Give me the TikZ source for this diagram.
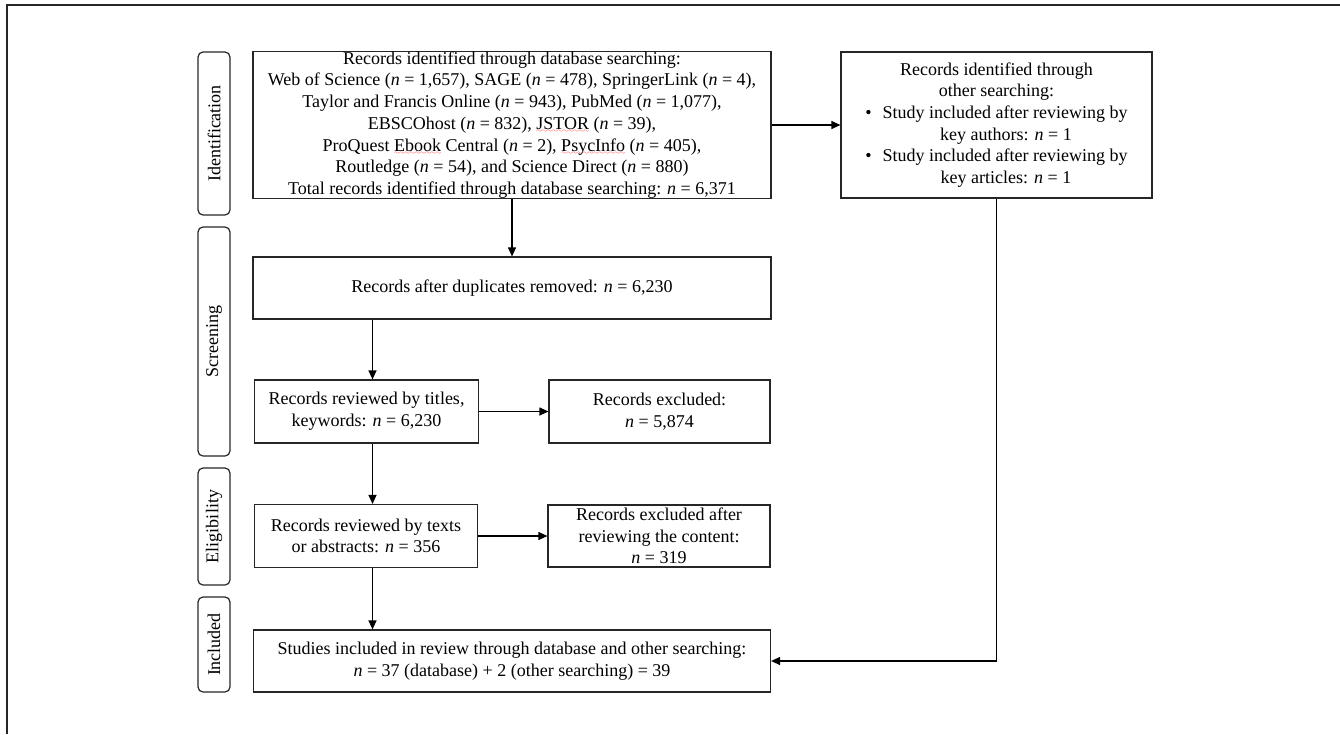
\documentclass[tikz,border=0pt]{standalone}
\usepackage{fontspec}
\setmainfont{Liberation Serif}
\usetikzlibrary{arrows.meta}

\font\wavefnt=lasy6
\newcommand{\itn}{\textit{n}}
\newsavebox{\spellbox}
\newcommand{\spellmark}[1]{\sbox{\spellbox}{#1}%
  \rlap{\raisebox{-3.5pt}{\color{red}\hbox to \wd\spellbox{\xleaders\hbox{\wavefnt\char58}\hfil}}}%
  \usebox{\spellbox}}

\tikzset{
  box/.style={draw=black!85, rectangle, inner sep=0pt, align=center},
  phase/.style={draw=black!85, rounded corners=5pt, rotate=90, inner sep=0pt, minimum height=32pt},
}

\begin{document}
\begin{tikzpicture}[->, >={Triangle[length=9pt,width=8pt]}, x=1pt, y=-1pt,
  node distance=293pt, line width=1.2pt, font=\fontsize{18}{21.7}\selectfont]
\useasboundingbox (0,0) rectangle (1340,734);
\draw[-, black!85, line width=1.4pt] (1340,5) -- (7,5) -- (7,734);

% phases
\node (idf)  [phase, minimum width=163pt] at (214,133.5) {Identification};
\node (scr)  [phase, minimum width=229pt] at (214,341.5) {Screening};
\node (elig) [phase, minimum width=117pt] at (214,526.5) {Eligibility};
\node (inc)  [phase, minimum width=95pt]  at (214,644.5) {Included};

% boxes
\node (db)[box, minimum width=518pt, minimum height=146pt] at (512,125)
  {Records identified through database searching:\\
   Web of Science (\itn{} = 1,657), SAGE (\itn{} = 478), SpringerLink (\itn{} = 4),\\
   Taylor and Francis Online (\itn{} = 943), PubMed (\itn{} = 1,077),\\
   EBSCOhost (\itn{} = 832), \spellmark{JSTOR} (\itn{} = 39),\\
   ProQuest \spellmark{Ebook} Central (\itn{} = 2), \spellmark{PsycInfo} (\itn{} = 405),\\
   Routledge (\itn{} = 54), and Science Direct (\itn{} = 880)\\
   Total records identified through database searching: \itn{} = 6,371};
\node (other)[box, minimum width=311pt, minimum height=146pt] at (996.5,125)
  {Records identified through\\
   other searching:\\
   \textbullet\hspace{11pt}Study included after reviewing by\\
   \hspace*{19pt}key authors: \itn{} = 1\\
   \textbullet\hspace{11pt}Study included after reviewing by\\
   \hspace*{19pt}key articles: \itn{} = 1};
\node (dup)[box, minimum width=518pt, minimum height=62pt] at (512,288)
  {Records after duplicates removed: \itn{} = 6,230};
\node (titles)[box, minimum width=224pt, minimum height=63pt] at (366.5,411.5)
  {Records reviewed by titles,\\ keywords: \itn{} = 6,230};
\node (excl1)[box, minimum width=221pt, minimum height=63pt] [right of = titles]
  {Records excluded:\\ \itn{} = 5,874};
\node (texts)[box, minimum width=223pt, minimum height=63pt] at (366,536)
  {Records reviewed by texts\\ or abstracts: \itn{} = 356};
\node (excl2)[box, minimum width=222pt, minimum height=62pt] [right of = texts]
  {Records excluded after\\ reviewing the content:\\ \itn{} = 319};
\node (res)[box, minimum width=517pt, minimum height=62pt] at (512,661)
  {Studies included in review through database and other searching:\\
   \itn{} = 37 (database) + 2 (other searching) = 39};

\coordinate (lane) at ([xshift=6pt]titles.north);
\path (db) edge (other)
      (db) edge (dup)
      (lane |- dup.south) edge (lane)
      (titles.east) edge (titles.east -| excl1.west)
      (lane |- titles.south) edge (lane |- texts.north)
      (texts.east) edge (texts.east -| excl2.west)
      (lane |- texts.south) edge (lane |- res.north);
\draw (other.south) |- (res.east);
\end{tikzpicture}
\end{document}
